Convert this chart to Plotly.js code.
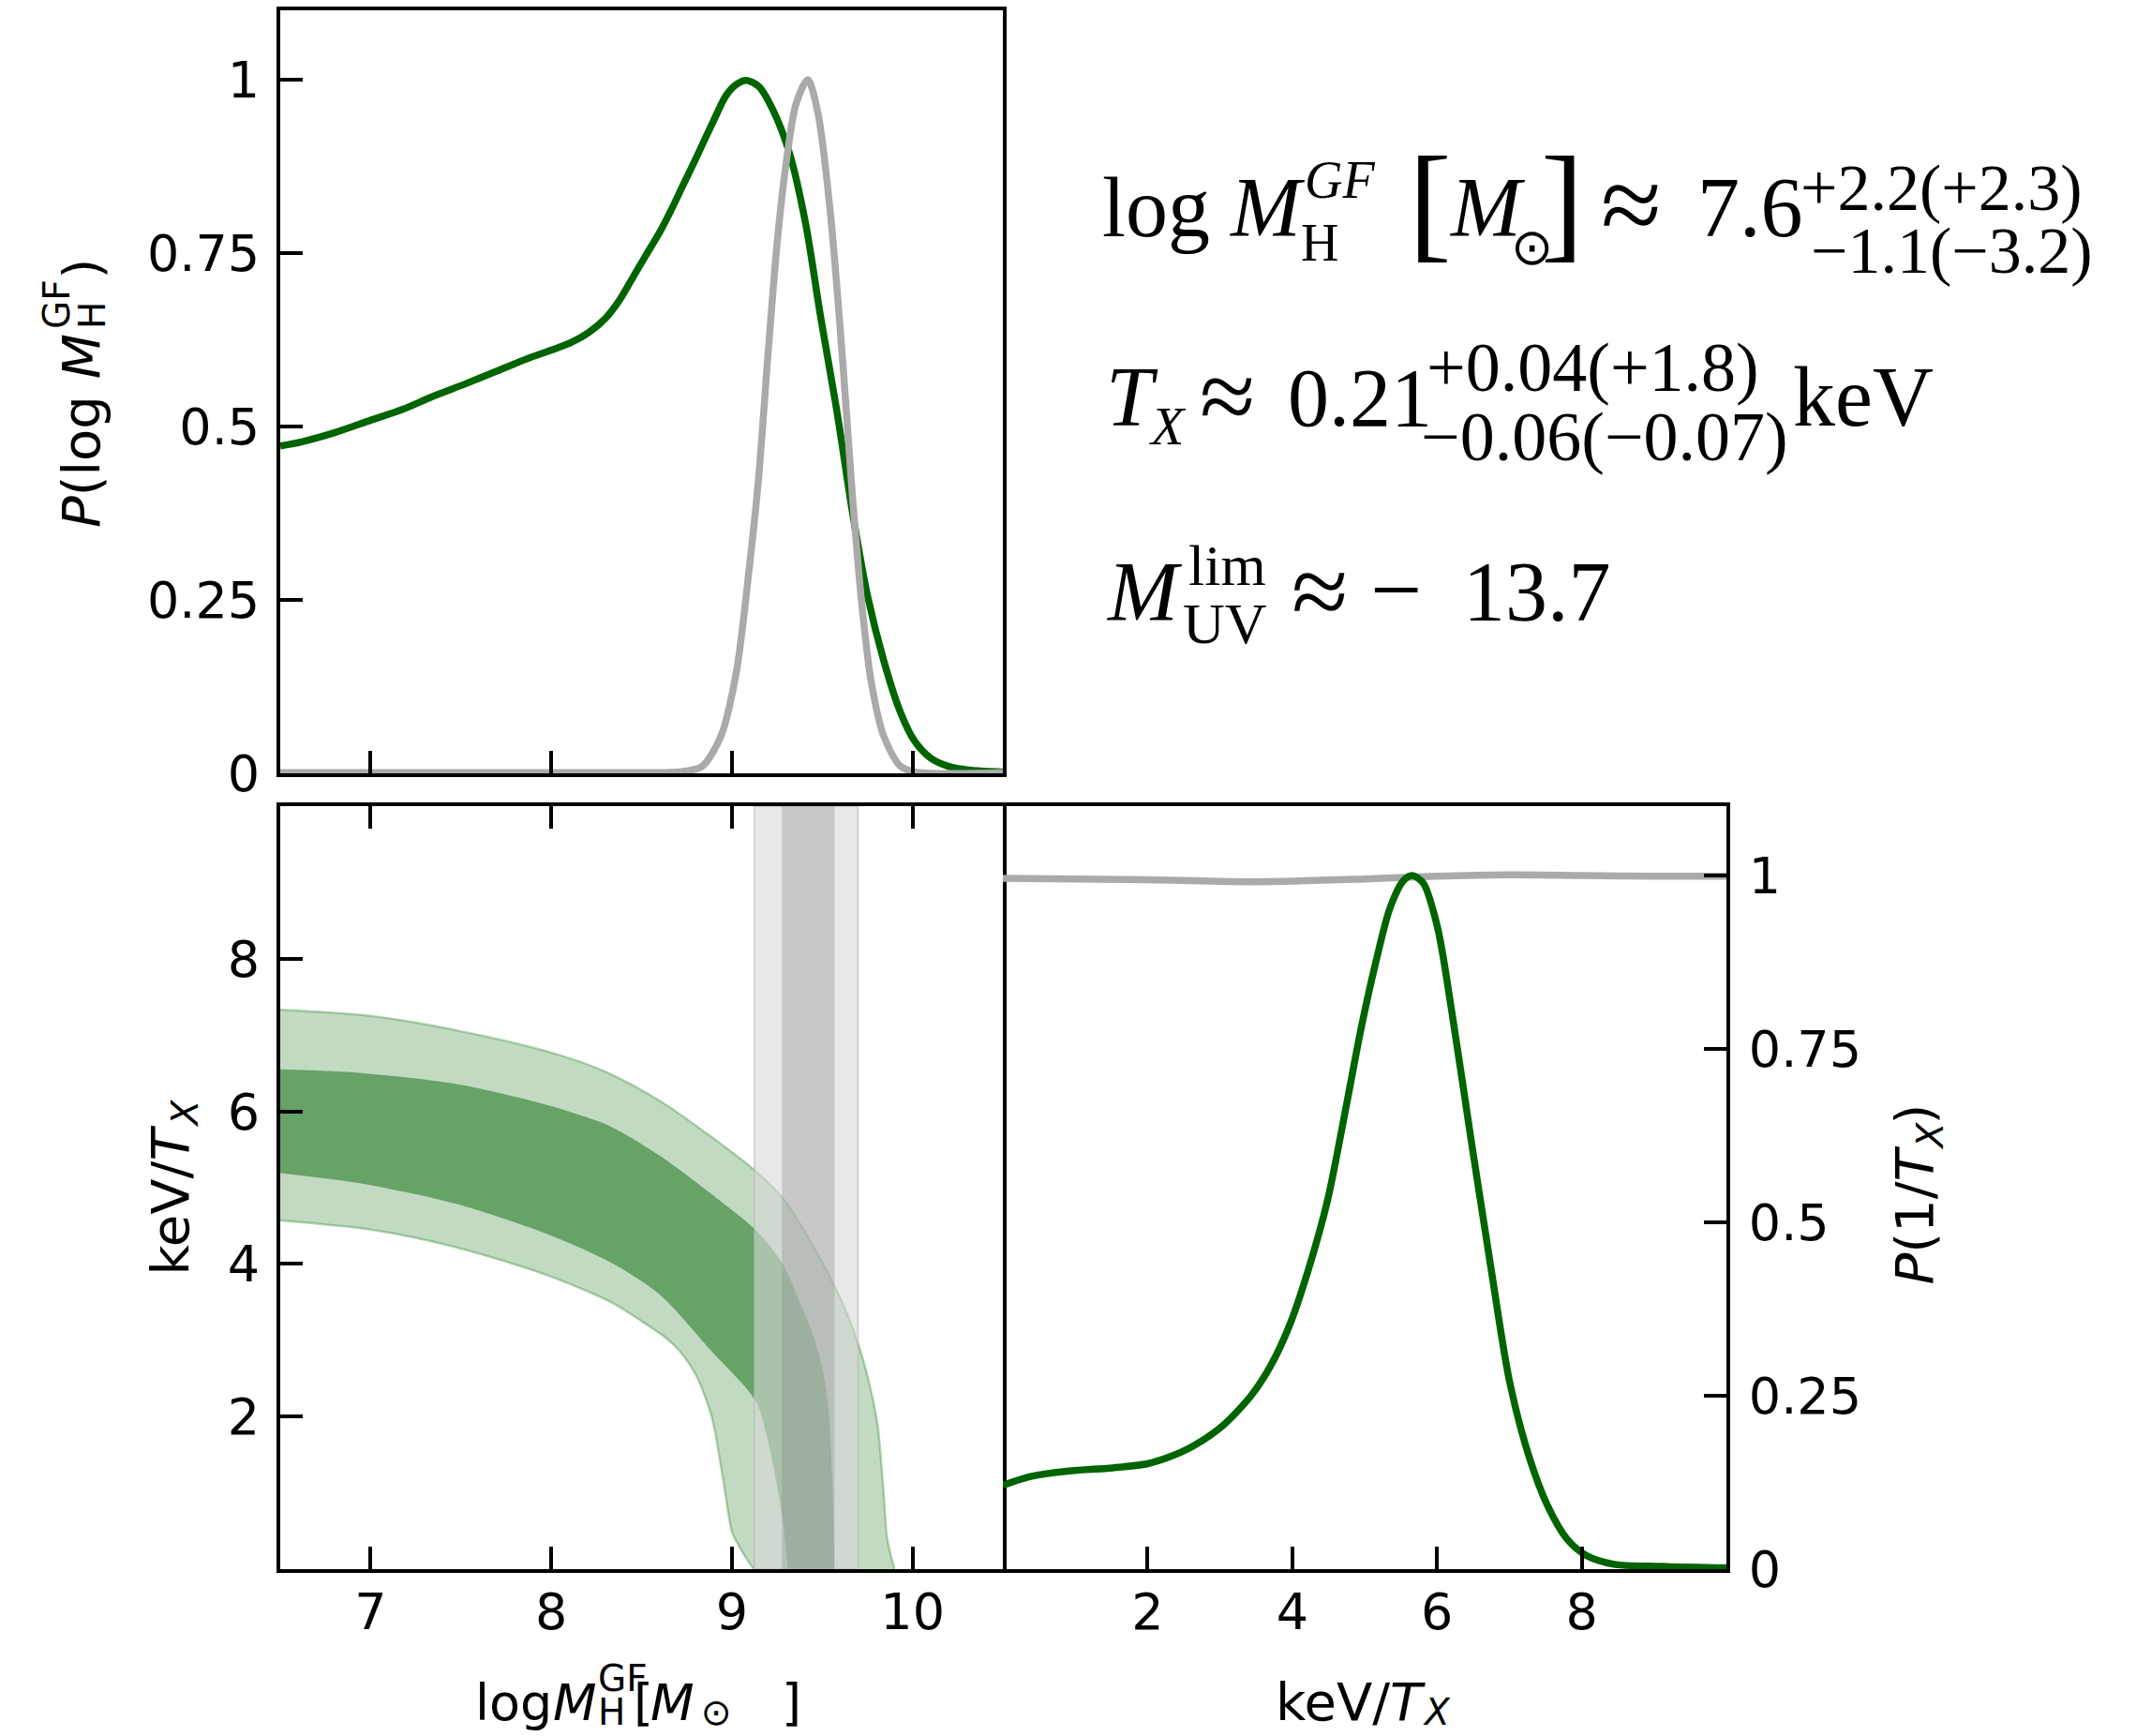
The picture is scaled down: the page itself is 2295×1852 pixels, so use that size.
<!DOCTYPE html>
<html>
<head>
<meta charset="utf-8">
<script src="https://cdn.plot.ly/plotly-3.0.1.min.js"></script>
<style>html,body{margin:0;padding:0;background:#fff;}</style>
</head>
<body>
<div id="chart" style="width:2295px;height:1852px;"></div>
<script>
// ---------------- data ----------------
const massTicks = [7, 8, 9, 10];
const invTTicks = [2, 4, 6, 8];
const probTicks = [0, 0.25, 0.5, 0.75, 1];
const probTickText = ['0', '0.25', '0.5', '0.75', '1'];

// posterior of log M_H^GF (green, top panel)
const logM_post = [6.5, 6.62, 6.8, 7.0, 7.18, 7.35, 7.53, 7.7, 7.87, 8.0, 8.11, 8.21, 8.3, 8.38, 8.45, 8.52, 8.6, 8.66, 8.73, 8.8, 8.89, 8.97, 9.03, 9.08, 9.15, 9.23, 9.32, 9.41, 9.49, 9.58, 9.67, 9.75, 9.84, 9.93, 10.01, 10.1, 10.2, 10.3, 10.4, 10.5];
const P_logM_post = [0.472, 0.478, 0.491, 0.509, 0.525, 0.544, 0.562, 0.58, 0.598, 0.61, 0.621, 0.636, 0.656, 0.683, 0.714, 0.745, 0.78, 0.81, 0.848, 0.886, 0.936, 0.978, 0.994, 0.999, 0.99, 0.955, 0.893, 0.79, 0.66, 0.524, 0.372, 0.257, 0.163, 0.09, 0.047, 0.022, 0.01, 0.005, 0.003, 0.002];

// prior / reference of log M (grey, top panel)
const logM_prior = [6.5, 7.5, 8.5, 8.71, 8.835, 8.94, 9.026, 9.095, 9.147, 9.2, 9.25, 9.30, 9.355, 9.42, 9.477, 9.546, 9.615, 9.667, 9.72, 9.77, 9.84, 9.93, 10.01, 10.5];
const P_logM_prior = [0.001, 0.001, 0.001, 0.002, 0.01, 0.054, 0.148, 0.293, 0.423, 0.604, 0.763, 0.879, 0.965, 1.0, 0.951, 0.806, 0.589, 0.401, 0.242, 0.134, 0.054, 0.011, 0.002, 0.001];

// posterior of keV/T_X (green, right panel)
const invT_post = [0, 0.4, 0.86, 1.52, 2.0, 2.31, 2.64, 3.04, 3.43, 3.70, 3.96, 4.22, 4.49, 4.75, 4.95, 5.15, 5.35, 5.54, 5.66, 5.81, 6.01, 6.21, 6.47, 6.74, 7.0, 7.27, 7.53, 7.8, 8.06, 8.45, 9.11, 10];
const P_invT_post = [0.121, 0.134, 0.141, 0.146, 0.152, 0.162, 0.178, 0.207, 0.25, 0.293, 0.351, 0.431, 0.533, 0.67, 0.779, 0.873, 0.953, 0.993, 1.0, 0.989, 0.924, 0.80, 0.62, 0.438, 0.272, 0.163, 0.091, 0.043, 0.02, 0.007, 0.004, 0.002];

// prior of keV/T_X (grey, right panel)
const invT_prior = [0, 2, 3.5, 5, 6, 7, 8, 9, 10];
const P_invT_prior = [0.996, 0.994, 0.991, 0.995, 0.999, 1.001, 1.0, 0.999, 0.999];

// 2D credible bands (bottom-left): outer (95%) and inner (68%)
const band95_lo_x = [6.5, 7.0, 7.47, 7.98, 8.33, 8.5, 8.63, 8.71, 8.80, 8.887, 8.95, 9.0, 9.026, 9.08, 9.12];
const band95_lo_y = [4.57, 4.45, 4.22, 3.85, 3.5, 3.25, 3.04, 2.86, 2.55, 2.01, 1.2, 0.49, 0.36, 0.14, 0];
const band95_hi_x = [6.5, 7.0, 7.5, 8.0, 8.3, 8.6, 8.89, 9.13, 9.29, 9.41, 9.51, 9.62, 9.70, 9.754, 9.806, 9.84, 9.86, 9.90];
const band95_hi_y = [7.33, 7.25, 7.05, 6.77, 6.52, 6.14, 5.66, 5.22, 4.84, 4.4, 3.98, 3.45, 2.95, 2.5, 1.9, 1.0, 0.4, 0];
const band68_lo_x = [6.5, 6.96, 7.47, 7.98, 8.33, 8.6, 8.89, 9.13, 9.2, 9.25, 9.286, 9.31];
const band68_lo_y = [5.19, 5.05, 4.79, 4.39, 4.02, 3.6, 2.85, 2.21, 1.68, 1.09, 0.56, 0];
const band68_hi_x = [6.5, 6.96, 7.47, 7.98, 8.33, 8.6, 8.89, 9.13, 9.277, 9.37, 9.44, 9.49, 9.53, 9.555, 9.568];
const band68_hi_y = [6.55, 6.5, 6.36, 6.08, 5.8, 5.42, 4.91, 4.45, 4.02, 3.53, 3.13, 2.74, 2.21, 1.22, 0];

// prior intervals of log M (grey vertical bands)
const prior95 = [9.125, 9.698];
const prior68 = [9.277, 9.568];
const bandYSpan = [0, 10];

// ---------------- figure ----------------
const W = 2295, H = 1852;
const GREEN = '#006400', GREY = '#aaaaaa';
const SERIF = 'Liberation Serif', SANS = 'DejaVu Sans';
const LW = 7.5;

function vband(lim, fill, line) {
  return {x: [lim[0], lim[1], lim[1], lim[0], lim[0]],
          y: [bandYSpan[0], bandYSpan[0], bandYSpan[1], bandYSpan[1], bandYSpan[0]],
          xaxis: 'x2', yaxis: 'y2', mode: 'lines', fill: 'toself', fillcolor: fill,
          line: {color: line || 'rgba(0,0,0,0)', width: line ? 2 : 0}, hoverinfo: 'skip'};
}

const traces = [
  // top panel
  {x: logM_post, y: P_logM_post, xaxis: 'x', yaxis: 'y', mode: 'lines',
   line: {color: GREEN, width: LW, shape: 'spline', smoothing: 0.8}},
  {x: logM_prior, y: P_logM_prior, xaxis: 'x', yaxis: 'y', mode: 'lines',
   line: {color: GREY, width: LW, shape: 'spline', smoothing: 0.8}},
  // bottom-left: bands
  {x: band95_lo_x, y: band95_lo_y, xaxis: 'x2', yaxis: 'y2', mode: 'lines',
   line: {color: 'rgba(0,110,0,0.28)', width: 2.5, shape: 'spline', smoothing: 0.8}},
  {x: band95_hi_x, y: band95_hi_y, xaxis: 'x2', yaxis: 'y2', mode: 'lines', fill: 'tonexty',
   fillcolor: 'rgba(0,100,0,0.24)',
   line: {color: 'rgba(0,110,0,0.28)', width: 2.5, shape: 'spline', smoothing: 0.8}},
  {x: band68_lo_x, y: band68_lo_y, xaxis: 'x2', yaxis: 'y2', mode: 'lines',
   line: {color: 'rgba(0,0,0,0)', width: 0, shape: 'spline', smoothing: 0.8}},
  {x: band68_hi_x, y: band68_hi_y, xaxis: 'x2', yaxis: 'y2', mode: 'lines', fill: 'tonexty',
   fillcolor: 'rgba(0,100,0,0.47)',
   line: {color: 'rgba(0,0,0,0)', width: 0, shape: 'spline', smoothing: 0.8}},
  vband(prior95, 'rgba(216,216,216,0.59)', 'rgba(185,185,185,0.55)'),
  vband(prior68, 'rgba(140,140,140,0.35)'),
  // bottom-right
  {x: invT_prior, y: P_invT_prior, xaxis: 'x3', yaxis: 'y3', mode: 'lines',
   line: {color: GREY, width: LW, shape: 'spline', smoothing: 0.8}},
  {x: invT_post, y: P_invT_post, xaxis: 'x3', yaxis: 'y3', mode: 'lines',
   line: {color: GREEN, width: LW, shape: 'spline', smoothing: 0.8}}
];

const xL = [299 / W, 1070 / W], xR = [1070 / W, 1842 / W];
const yT = [1 - 825 / H, 1 - 11 / H], yB = [1 - 1674 / H, 1 - 860 / H];
const tickFont = {family: SANS, size: 54, color: 'black'};
function ax(extra) {
  return Object.assign({showgrid: false, zeroline: false, showline: true, linecolor: 'black',
    linewidth: 4, ticks: 'inside', ticklen: 24, tickwidth: 4, tickcolor: 'black',
    tickfont: tickFont, fixedrange: true}, extra);
}

function mid(fam) { return fam === SERIF ? 0.3375 : 0.346; }
function T(text, left, base, size, fam) {
  fam = fam || SERIF;
  return {xref: 'paper', yref: 'paper', x: left / W, y: 1 - (base - mid(fam) * size) / H,
    xanchor: 'left', yanchor: 'middle', text: text, showarrow: false,
    font: {family: fam, size: size, color: 'black'}, borderpad: 0, borderwidth: 0};
}
function R(text, baseX, startY, size) {
  return {xref: 'paper', yref: 'paper', x: (baseX - 0.346 * size) / W, y: 1 - startY / H,
    xanchor: 'center', yanchor: 'bottom', textangle: -90, text: text, showarrow: false,
    font: {family: SANS, size: size, color: 'black'}, borderpad: 0, borderwidth: 0};
}

const annotations = [
  // line 1
  T('log', 1176, 252, 90), T('<i>M</i>', 1311, 252, 90), T('<i>GF</i>', 1392, 211, 56),
  T('H', 1388, 278, 56), T('[', 1503, 262, 137), T('<i>M</i>', 1546, 252, 90),
  T('\u2299', 1612, 282, 54), T(']', 1644, 262, 137), T('\u2248', 1708, 258, 118),
  T('7.6', 1811, 252, 90), T('+2.2(+2.3)', 1921, 224, 70), T('\u22121.1(\u22123.2)', 1932, 291, 70),
  // line 2
  T('<i>T</i>', 1180, 454, 90), T('<i>X</i>', 1226, 474, 58), T('\u2248', 1280, 459, 108),
  T('0.21', 1374, 454, 88), T('+0.04(+1.8)', 1522, 417, 74), T('\u22120.06(\u22120.07)', 1516, 491, 74),
  T('keV', 1913, 454, 90),
  // line 3
  T('<i>M</i>', 1180, 662, 90), T('lim', 1268, 624, 62), T('UV', 1262, 686, 62),
  T('\u2248', 1378, 668, 110), T('\u2212', 1462, 662, 98), T('13.7', 1561, 662, 90),
  // bottom-left x title
  T('log', 507, 1835, 54, SANS), T('<i>M</i>', 590, 1835, 54, SANS), T('GF', 638, 1804, 39, SANS),
  T('H', 638, 1840, 39, SANS), T('[', 676, 1835, 54, SANS), T('<i>M</i>', 694, 1835, 54, SANS),
  T('\u2299', 748, 1840, 39, SANS), T(']', 834, 1835, 54, SANS),
  // bottom-right x title
  T('keV/<i>T</i>', 1361, 1835, 56, SANS), T('<i>X</i>', 1518, 1840, 39, SANS),
  // top y title
  R('<i>P</i>(log <i>M</i>', 106, 563, 56), R('GF', 74, 351, 39), R('H', 112, 351, 39), R(')', 106, 298, 56),
  // bottom-left y title
  R('keV/<i>T</i>', 200, 1361, 56), R('<i>X</i>', 210, 1203, 39),
  // right y title
  R('<i>P</i>(1/<i>T</i>', 2061, 1371, 56), R('<i>X</i>', 2072, 1227, 39), R(')', 2061, 1200, 56)
];

const layout = {
  width: W, height: H, margin: {l: 0, r: 0, t: 0, b: 0},
  paper_bgcolor: 'white', plot_bgcolor: 'white', showlegend: false,
  xaxis: ax({domain: xL, range: [6.5, 10.5], anchor: 'y', tickvals: massTicks, showticklabels: false, mirror: true}),
  yaxis: ax({domain: yT, range: [0, 1.1], anchor: 'x', tickvals: probTicks, ticktext: probTickText, mirror: true, ticklabelstandoff: 7}),
  xaxis2: ax({domain: xL, range: [6.5, 10.5], anchor: 'y2', tickvals: massTicks, mirror: 'ticks', ticklabelstandoff: -5}),
  yaxis2: ax({domain: yB, range: [0, 10], anchor: 'x2', tickvals: invTTicks, mirror: true, ticklabelstandoff: 7}),
  xaxis3: ax({domain: xR, range: [0, 10], anchor: 'y3', tickvals: invTTicks, mirror: true, ticklabelstandoff: -5}),
  yaxis3: ax({domain: yB, range: [0, 1.1], anchor: 'x3', side: 'right', tickvals: probTicks, ticktext: probTickText, mirror: false, ticklabelstandoff: 9}),
  annotations: annotations
};

Plotly.newPlot('chart', traces, layout, {displayModeBar: false, staticPlot: true});
</script>
</body>
</html>
